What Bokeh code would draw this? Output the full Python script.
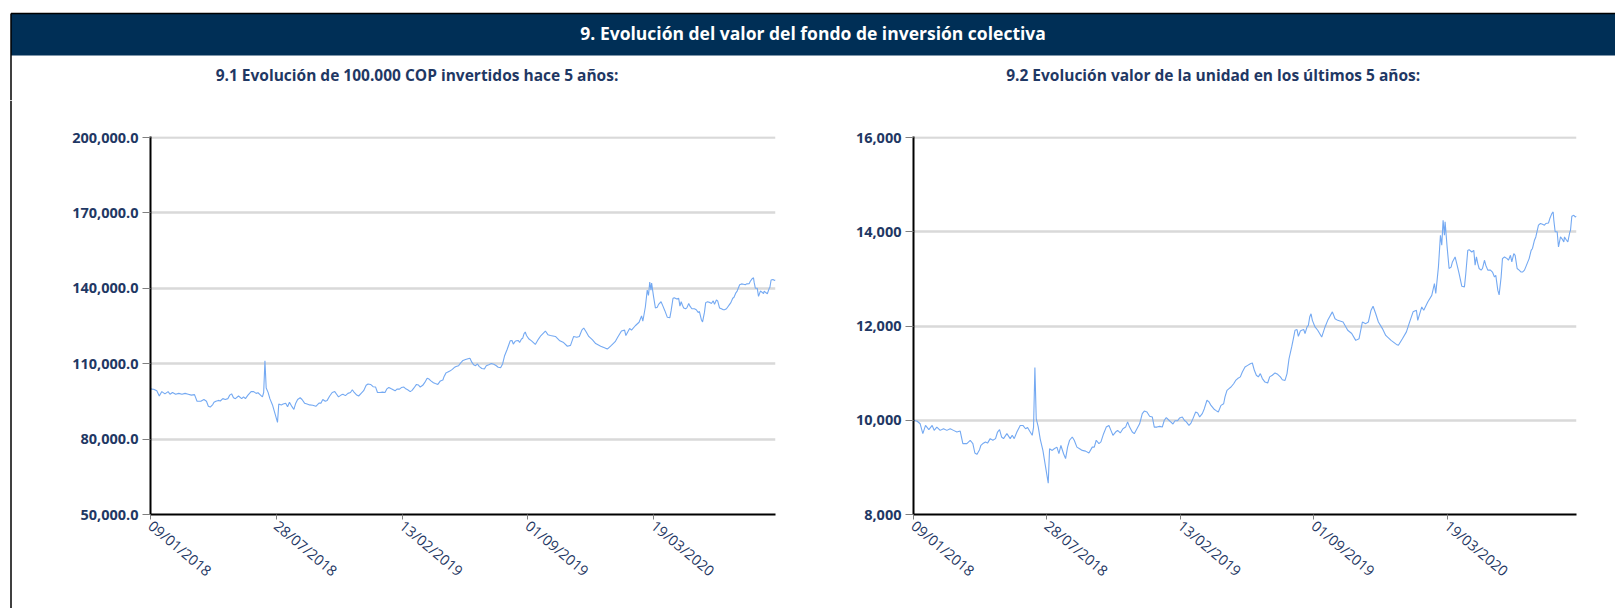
import math
import pandas as pd
from bokeh.plotting import figure
from bokeh.models import (Range1d, FixedTicker, NumeralTickFormatter,
                          DatetimeTickFormatter, ColumnDataSource)
from bokeh.layouts import column, row
from bokeh.embed import file_html
from bokeh.resources import INLINE
from bokeh.core.properties import value

# ---------------- data ----------------
titulo = "9. Evolución del valor del fondo de inversión colectiva"
subtitulo_1 = "9.1 Evolución de 100.000 COP invertidos hace 5 años:"
subtitulo_2 = "9.2 Evolución valor de la unidad en los últimos 5 años:"

fecha_inicio = "2018-01-09"
etiquetas_x = ["09/01/2018", "28/07/2018", "13/02/2019", "01/09/2019", "19/03/2020"]
ticks_y_inversion = [50000, 80000, 110000, 140000, 170000, 200000]
ticks_y_unidad = [8000, 10000, 12000, 14000, 16000]

# days elapsed since fecha_inicio
dias = [
    0, 3, 5, 10, 14, 18, 23, 28, 31, 35,
    40, 45, 50, 55, 60, 65, 70, 74, 80, 85,
    89, 92, 95, 99, 101, 104, 108, 111, 115, 119,
    123, 126, 129, 132, 135, 140, 145, 148, 151, 155,
    160, 164, 168, 171, 175, 178, 180, 182, 184, 187,
    190, 194, 198, 202, 204, 208, 211, 215, 218, 221,
    225, 228, 231, 234, 238, 241, 245, 249, 253, 258,
    263, 268, 271, 274, 278, 281, 285, 289, 293, 296,
    299, 303, 306, 310, 314, 318, 321, 324, 328, 331,
    335, 339, 343, 346, 350, 354, 358, 361, 365, 369,
    373, 376, 379, 383, 386, 389, 392, 396, 399, 403,
    406, 409, 413, 416, 419, 423, 426, 429, 433, 436,
    440, 443, 446, 450, 453, 457, 461, 465, 467, 470,
    473, 476, 480, 483, 486, 490, 493, 497, 501, 505,
    508, 511, 514, 517, 520, 523, 527, 531, 534, 538,
    542, 546, 550, 553, 557, 560, 563, 567, 570, 572,
    575, 577, 580, 582, 585, 587, 590, 592, 594, 596,
    598, 602, 606, 612, 617, 621, 628, 632, 636, 644,
    651, 657, 663, 668, 673, 678, 682, 686, 689, 693,
    697, 703, 708, 716, 724, 727, 733, 739, 743, 749,
    754, 756, 762, 765, 771, 777, 781, 783, 787, 790,
    792, 794, 796, 797, 800, 803, 806, 808, 812, 815,
    818, 822, 826, 828, 831, 833, 837, 840, 842, 844,
    846, 848, 851, 853, 856, 858, 861, 865, 868, 871,
    873, 876, 878, 881, 883, 886, 890, 892, 895, 897,
    900, 902, 905, 908, 911, 913, 916, 918, 921, 923,
    926, 928, 931, 933, 937, 940, 943, 946, 948, 952,
    954, 957, 959, 960, 962, 965, 967, 970, 972, 975,
    976, 979, 981, 984, 985, 987, 990, 992, 994,
]

valor_inversion = [
    100000, 99900, 99850, 99250, 97150, 98900, 98000, 98900, 97850, 98550,
    97850, 98200, 97850, 98200, 97850, 97500, 97700, 95050, 95050, 95750,
    95050, 93050, 92750, 93750, 94650, 95050, 95400, 95150, 96100, 95750,
    96100, 97500, 98000, 96450, 96100, 97150, 96100, 96800, 96100, 97500,
    98900, 98900, 98200, 98450, 97500, 96800, 98550, 111200, 100350, 98600,
    96000, 93600, 90100, 86650, 93950, 93600, 93950, 94300, 92900, 94650,
    92900, 91850, 94300, 95750, 96450, 95750, 94300, 93950, 93600, 93450,
    93050, 94300, 94300, 95750, 95050, 95400, 97150, 98550, 98900, 97850,
    96800, 97500, 97850, 97300, 98200, 98550, 99650, 98550, 97500, 97150,
    98200, 99250, 101400, 101950, 101750, 100850, 100700, 98550, 98550, 98700,
    98550, 100000, 100550, 100000, 99600, 99200, 99900, 99900, 100500, 100700,
    100000, 99650, 98900, 99400, 100350, 101750, 101550, 100700, 101400, 102450,
    104250, 103900, 103150, 102450, 102100, 101750, 103150, 103500, 104950, 106350,
    106700, 107050, 107750, 108450, 108850, 109200, 110250, 111300, 111650, 112000,
    112150, 110600, 109550, 109200, 109900, 108850, 108100, 107900, 109200, 109550,
    110050, 109750, 109200, 108600, 108450, 109900, 113050, 115550, 117650, 119100,
    119250, 117800, 118950, 119100, 119250, 118400, 119800, 120150, 121900, 122600,
    121200, 119800, 119100, 117650, 119800, 121200, 123000, 121550, 121200, 120850,
    119100, 118400, 116950, 117300, 120850, 120500, 120850, 123350, 124200, 122600,
    120850, 119450, 118000, 116950, 116100, 115900, 117300, 118750, 120500, 123000,
    123350, 121200, 124050, 123350, 125100, 126500, 129000, 126900, 132550, 139250,
    137150, 142450, 139250, 142100, 136800, 132200, 132500, 133600, 134650, 132900,
    131100, 128450, 128300, 131100, 136050, 136200, 135700, 136050, 132900, 134650,
    133250, 132200, 131850, 132200, 133950, 132900, 131850, 131850, 131450, 130400,
    130750, 127600, 126600, 130400, 134300, 134650, 134300, 133950, 135000, 133600,
    135350, 135000, 132200, 131850, 131450, 131450, 131850, 132550, 133600, 134300,
    136050, 136450, 138200, 138900, 141400, 141750, 141600, 141400, 141750, 141850,
    142800, 143850, 144200, 142450, 140000, 140000, 136800, 138900, 138550, 137850,
    138900, 138200, 137850, 139950, 140300, 143300, 143500, 143150, 143300,
]

valor_unidad = [
    10000, 9990, 9985, 9925, 9715, 9890, 9800, 9890, 9785, 9855,
    9785, 9820, 9785, 9820, 9785, 9750, 9770, 9505, 9505, 9575,
    9505, 9305, 9275, 9375, 9465, 9505, 9540, 9515, 9610, 9575,
    9610, 9750, 9800, 9645, 9610, 9715, 9610, 9680, 9610, 9750,
    9890, 9890, 9820, 9845, 9750, 9680, 9855, 11120, 10035, 9860,
    9600, 9360, 9010, 8665, 9395, 9360, 9395, 9430, 9290, 9465,
    9290, 9185, 9430, 9575, 9645, 9575, 9430, 9395, 9360, 9345,
    9305, 9430, 9430, 9575, 9505, 9540, 9715, 9855, 9890, 9785,
    9680, 9750, 9785, 9730, 9820, 9855, 9965, 9855, 9750, 9715,
    9820, 9925, 10140, 10195, 10175, 10085, 10070, 9855, 9855, 9870,
    9855, 10000, 10055, 10000, 9960, 9920, 9990, 9990, 10050, 10070,
    10000, 9965, 9890, 9940, 10035, 10175, 10155, 10070, 10140, 10245,
    10425, 10390, 10315, 10245, 10210, 10175, 10315, 10350, 10495, 10635,
    10670, 10705, 10775, 10845, 10885, 10920, 11025, 11130, 11165, 11200,
    11215, 11060, 10955, 10920, 10990, 10885, 10810, 10790, 10920, 10955,
    11005, 10975, 10920, 10860, 10845, 10990, 11305, 11555, 11765, 11910,
    11925, 11780, 11895, 11910, 11925, 11840, 11980, 12015, 12190, 12260,
    12120, 11980, 11910, 11765, 11980, 12120, 12300, 12155, 12120, 12085,
    11910, 11840, 11695, 11730, 12085, 12050, 12085, 12335, 12420, 12260,
    12085, 11945, 11800, 11695, 11610, 11590, 11730, 11875, 12050, 12300,
    12335, 12120, 12405, 12335, 12510, 12650, 12900, 12690, 13255, 13925,
    13715, 14245, 13925, 14210, 13680, 13220, 13250, 13360, 13465, 13290,
    13110, 12845, 12830, 13110, 13605, 13620, 13570, 13605, 13290, 13465,
    13325, 13220, 13185, 13220, 13395, 13290, 13185, 13185, 13145, 13040,
    13075, 12760, 12660, 13040, 13430, 13465, 13430, 13395, 13500, 13360,
    13535, 13500, 13220, 13185, 13145, 13145, 13185, 13255, 13360, 13430,
    13605, 13645, 13820, 13890, 14140, 14175, 14160, 14140, 14175, 14185,
    14280, 14385, 14420, 14245, 14000, 14000, 13680, 13890, 13855, 13785,
    13890, 13820, 13785, 13995, 14030, 14330, 14350, 14315, 14330,
]

# ---------------- styling ----------------
FONT = "Open Sans"
NAVY = "#1F3864"
HEADER_BG = "#002F56"
LINE_COLOR = "#74A9F2"
GRID_COLOR = "#D9D9D9"
TICK_COLOR = "#7F7F7F"

fechas = pd.Timestamp(fecha_inicio) + pd.to_timedelta(dias, unit="D")
ticks_x = [pd.to_datetime(e, format="%d/%m/%Y").value / 1e6 for e in etiquetas_x]
x_start = fechas[0].value / 1e6
x_end = fechas[-1].value / 1e6

fmt = "%d/%m/%Y"
date_formatter = DatetimeTickFormatter(
    microseconds=fmt, milliseconds=fmt, seconds=fmt, minsec=fmt, minutes=fmt,
    hourmin=fmt, hours=fmt, days=fmt, months=fmt, years=fmt)

CHART_H = 508
FRAME_H = 378  # one extra pixel on top so the top grid line is not clipped


def make_chart(width, border_left, border_right, yvals, yticks, yfmt):
    y_lo, y_hi = yticks[0], yticks[-1]
    y_pad = (y_hi - y_lo) / (FRAME_H - 1)
    p = figure(width=width, height=CHART_H, x_axis_type="datetime",
               output_backend="svg", toolbar_location=None,
               min_border_left=border_left, min_border_right=border_right,
               min_border_top=36, min_border_bottom=CHART_H - 36 - FRAME_H,
               x_range=Range1d(x_start, x_end),
               y_range=Range1d(y_lo, y_hi + y_pad))
    src = ColumnDataSource(dict(x=fechas, y=yvals))
    p.line("x", "y", source=src, line_color=LINE_COLOR, line_width=1.1)
    p.outline_line_color = None
    p.background_fill_color = "white"
    p.border_fill_color = "white"
    p.xgrid.visible = False
    p.ygrid.ticker = FixedTicker(ticks=yticks)
    p.ygrid.grid_line_color = GRID_COLOR
    p.ygrid.grid_line_width = 2.5

    ya = p.yaxis[0]
    ya.ticker = FixedTicker(ticks=yticks)
    ya.formatter = NumeralTickFormatter(format=yfmt)
    ya.axis_line_color = "black"
    ya.axis_line_width = 2
    ya.major_tick_out = 8
    ya.major_tick_in = 0
    ya.major_tick_line_color = TICK_COLOR
    ya.minor_tick_line_color = None
    ya.major_label_standoff = 4
    ya.major_label_text_font = FONT
    ya.major_label_text_font_style = "bold"
    ya.major_label_text_font_size = "14.5px"
    ya.major_label_text_color = NAVY

    xa = p.xaxis[0]
    xa.ticker = FixedTicker(ticks=ticks_x)
    xa.formatter = date_formatter
    xa.axis_line_color = "black"
    xa.axis_line_width = 2
    xa.major_tick_out = 5
    xa.major_tick_in = 0
    xa.major_tick_line_color = TICK_COLOR
    xa.minor_tick_line_color = None
    xa.major_label_standoff = 4
    xa.major_label_orientation = -math.radians(40)
    xa.major_label_text_font = FONT
    xa.major_label_text_font_style = "normal"
    xa.major_label_text_font_size = "14.5px"
    xa.major_label_text_color = NAVY
    return p


left = make_chart(783, 138, 20, valor_inversion, ticks_y_inversion, "0,0.0")
right = make_chart(820, 118, 39, valor_unidad, ticks_y_unidad, "0,0")

# header with title and subtitles
TOTAL_W = 1615
HEADER_H = 100
header = figure(width=TOTAL_W, height=HEADER_H, x_range=Range1d(0, TOTAL_W),
                y_range=Range1d(HEADER_H, 0), output_backend="svg",
                toolbar_location=None, min_border=0,
                x_axis_location=None, y_axis_location=None)
header.grid.visible = False
header.outline_line_color = None
header.quad(left=[10.5], right=[TOTAL_W], top=[13], bottom=[55],
            fill_color=HEADER_BG, line_color=None)
header.segment(x0=[10.5], y0=[13], x1=[TOTAL_W], y1=[13], line_color="black", line_width=1.5)
header.segment(x0=[10.5], y0=[13], x1=[10.5], y1=[HEADER_H], line_color="black", line_width=1.5)
header.text(x=[812.6], y=[32], text=[titulo], text_font=value(FONT),
            text_font_style="bold", text_font_size="17.5px", text_color="white",
            text_align="center", text_baseline="alphabetic")
header.text(x=[416.5, 1212.7], y=[74.5, 74.5], text=[subtitulo_1, subtitulo_2],
            text_font=value(FONT), text_font_style="bold", text_font_size="15.5px",
            text_color=NAVY, text_align="center", text_baseline="alphabetic")

strip = figure(width=12, height=CHART_H, x_range=Range1d(0, 12),
               y_range=Range1d(CHART_H, 0), output_backend="svg",
               toolbar_location=None, min_border=0,
               x_axis_location=None, y_axis_location=None)
strip.frame_align = False
strip.grid.visible = False
strip.outline_line_color = None
strip.segment(x0=[10.5], y0=[0], x1=[10.5], y1=[CHART_H], line_color="black", line_width=1.5)

layout = column(header, row(strip, left, right, spacing=0), spacing=0)

with open("out.html", "w") as f:
    f.write(file_html(layout, INLINE))
